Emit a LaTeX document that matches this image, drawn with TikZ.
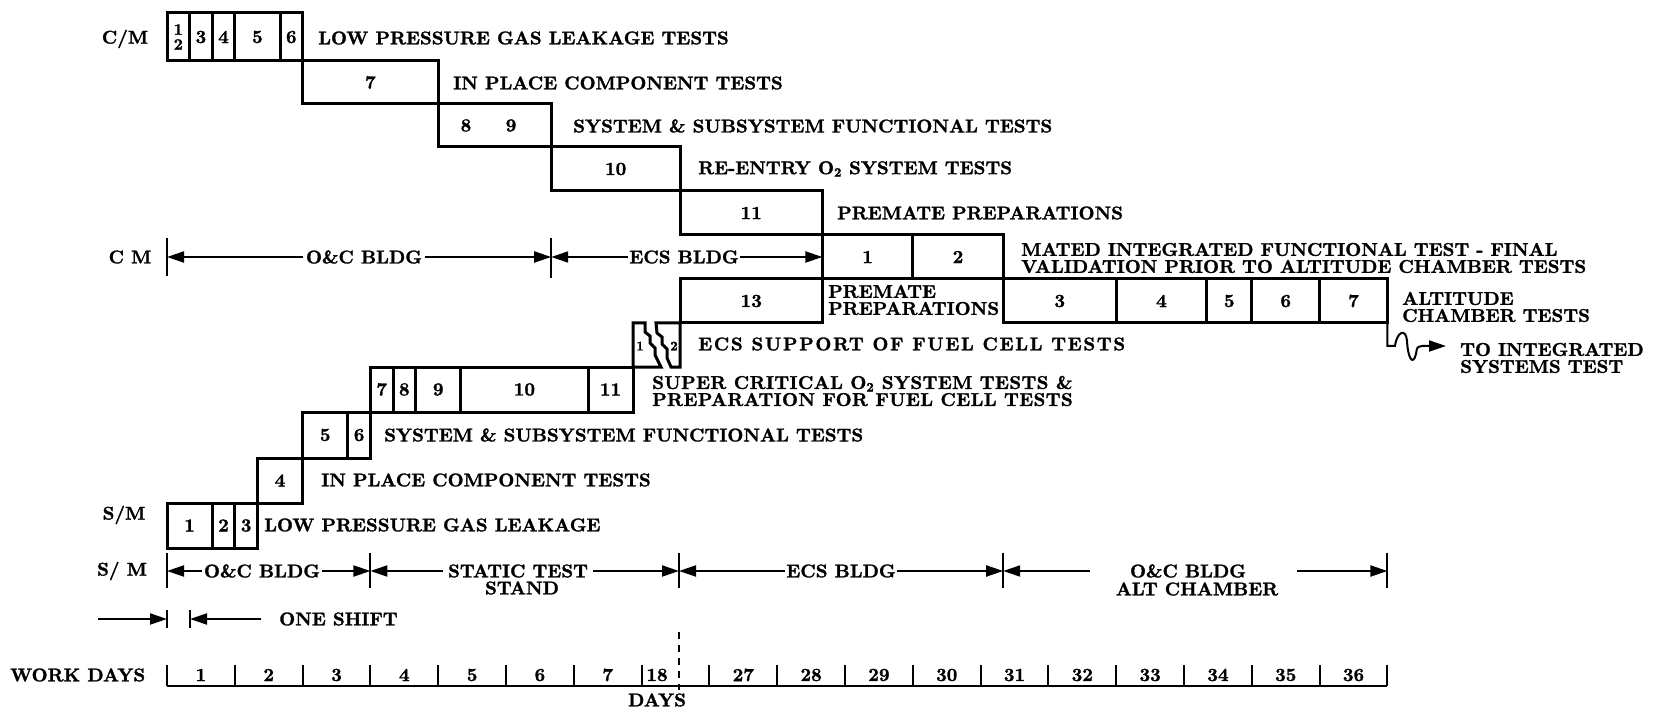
\documentclass[tikz,border=0pt]{standalone}
\usepackage{fontspec}
\usetikzlibrary{arrows.meta}
\newfontfamily\chartfont{lmroman10-bold.otf}[FakeBold=1.5]
\newcommand\gcell[6]{\draw[box] (#1,#3) rectangle (#2,#4); \node[lbl] (#6) at ({(#1+#2)/2},{(#3+#4)/2}) {#5};}
\begin{document}
\begin{tikzpicture}[x=1pt,y=-1pt,
  box/.style={draw, line width=3pt, line join=miter},
  lbl/.style={font=\fontsize{18.5}{17}\chartfont, inner sep=0pt},
  txt/.style={lbl, anchor=west, align=left},
  dim/.style={line width=2pt, -{Triangle[length=17pt,width=11pt]}},
  tk/.style={line width=2pt}]
\useasboundingbox (0,0) rectangle (1667,708);

% ---------- C/M staircase ----------
\draw[box] (167,13) rectangle (189.6,61);
\node[lbl, font=\fontsize{16}{15}\chartfont, align=center] (c12) at (178.3,37) {1\\2};
\gcell{189.6}{212.2}{13}{61}{3}{c3}
\gcell{212.2}{234.8}{13}{61}{4}{c4}
\gcell{234.8}{280}{13}{61}{5}{c5}
\gcell{280}{302.6}{13}{61}{6}{c6}
\gcell{302.6}{438.2}{61}{104}{7}{c7}
\draw[box] (438.2,104) rectangle (551.2,147);
\node[lbl] (c8) at (466,125.5) {8};
\node[lbl] (c9) at (511,125.5) {9};
\gcell{551.2}{680}{147}{191}{10}{c10}
\gcell{680}{822.4}{191}{235}{11}{c11}
\gcell{822.4}{912.8}{235}{279}{1}{m1}
\gcell{912.8}{1003.2}{235}{279}{2}{m2}
\gcell{680}{822.4}{279}{323}{13}{c13}
\gcell{1003.2}{1116.2}{279}{323}{3}{m3}
\gcell{1116.2}{1206.6}{279}{323}{4}{m4}
\gcell{1206.6}{1251.8}{279}{323}{5}{m5}
\gcell{1251.8}{1319.6}{279}{323}{6}{m6}
\gcell{1319.6}{1387.4}{279}{323}{7}{m7}

% ---------- S/M staircase ----------
\gcell{167}{212.2}{503}{548}{1}{s1}
\gcell{212.2}{234.8}{503}{548}{2}{s2}
\gcell{234.8}{257.4}{503}{548}{3}{s3}
\gcell{257.4}{302.6}{458}{503}{4}{s4}
\gcell{302.6}{347.8}{412}{458}{5}{s5}
\gcell{347.8}{370.4}{412}{458}{6}{s6}
\gcell{370.4}{393}{367}{412}{7}{s7}
\gcell{393}{415.6}{367}{412}{8}{s8}
\gcell{415.6}{460.8}{367}{412}{9}{s9}
\gcell{460.8}{588}{367}{412}{10}{s10}
\gcell{588}{633}{367}{412}{11}{s11}
% fuel cell break pieces
\draw[box] (633,323) -- (645,323) -- (645,332) -- (650,336) -- (650,343) -- (655,348) -- (655,355) -- (661,367) -- (633,367) -- cycle;
\draw[box] (656,323) -- (680,323) -- (680,367) -- (671,367) -- (667,358) -- (667,349) -- (662,344) -- (662,337) -- (657,333) -- cycle;
\node[lbl, font=\fontsize{13}{13}\chartfont] (f1) at (640,346) {1};
\node[lbl, font=\fontsize{13}{13}\chartfont] (f2) at (674,346) {2};

% ---------- left labels ----------
\node[lbl] (lcm) at (125,39) {C/M};
\node[lbl] (lcm2) at (130,257) {C M};
\node[lbl] (lsm) at (124,515) {S/M};
\node[lbl] (lsm2) at (122,571) {S/ M};

% ---------- task texts ----------
\node[txt] (t1) at (318,38) {LOW PRESSURE GAS LEAKAGE TESTS};
\node[txt] (t2) at (453,83) {IN PLACE COMPONENT TESTS};
\node[txt] (t3) at (573,126) {SYSTEM \& SUBSYSTEM FUNCTIONAL TESTS};
\node[txt] (t4) at (698,169) {RE-ENTRY O\textsubscript{2} SYSTEM TESTS};
\node[txt] (t5) at (837,213) {PREMATE PREPARATIONS};
\node[txt] (t6) at (1021,258) {MATED INTEGRATED FUNCTIONAL TEST - FINAL\\VALIDATION PRIOR TO ALTITUDE CHAMBER TESTS};
\node[txt] (t7) at (828,300) {PREMATE\\PREPARATIONS};
\node[txt] (t8) at (1402,307) {ALTITUDE\\CHAMBER TESTS};
\node[txt] (t9) at (1460,358) {TO INTEGRATED\\SYSTEMS TEST};
\node[txt] (t10) at (698,344) {\addfontfeatures{LetterSpace=9}ECS SUPPORT OF FUEL CELL TESTS};
\node[txt] (t11) at (652,391) {\addfontfeatures{LetterSpace=2}SUPER CRITICAL O\textsubscript{2} SYSTEM TESTS \&\\\addfontfeatures{LetterSpace=2}PREPARATION FOR FUEL CELL TESTS};
\node[txt] (t12) at (384,435) {SYSTEM \& SUBSYSTEM FUNCTIONAL TESTS};
\node[txt] (t13) at (321,480) {IN PLACE COMPONENT TESTS};
\node[txt] (t14) at (264,525) {LOW PRESSURE GAS LEAKAGE};

% ---------- wavy exit arrow ----------
\coordinate (wvs) at (1387.4,323);
\coordinate (wve) at (1446,346);
\draw[tk, -{Triangle[length=17pt,width=11pt]}] (wvs) -- (1387.4,346) -- (1395,346)
  .. controls (1397,331) and (1406,328) .. (1407,341)
  .. controls (1408,359) and (1413,366) .. (1416,354)
  .. controls (1417,347) .. (1422,346) -- (wve);

% ---------- C M location row ----------
\coordinate (cmL) at (167,257);
\coordinate (cmM) at (551.2,257);
\coordinate (cmR) at (822.4,257);
\draw[tk] (167,238) -- (167,276);
\draw[tk] (551.2,238) -- (551.2,278);
\node[lbl, inner sep=3pt] (cmoc) at (364,257) {O\&C BLDG};
\node[lbl, inner sep=1pt] (cmecs) at (684,257) {ECS BLDG};
\draw[dim] (cmoc.west) -- (cmL);
\draw[dim] (cmoc.east) -- (cmM);
\draw[dim] (cmecs.west) -- (cmM);
\draw[dim] (cmecs.east) -- (cmR);

% ---------- S/M location row ----------
\foreach \xx in {167,370.4,679,1003.2,1387.4}
  \draw[tk] (\xx,553) -- (\xx,588);
\coordinate (sA) at (167,571);
\coordinate (sB) at (370.4,571);
\coordinate (sC) at (679,571);
\coordinate (sD) at (1003.2,571);
\coordinate (sE) at (1387.4,571);
\node[lbl, inner sep=2pt] (soc) at (262,571) {O\&C BLDG};
\node[lbl, inner sep=5pt] (sst) at (518,571) {STATIC TEST};
\node[lbl] (sst2) at (522,588) {STAND};
\node[lbl, inner sep=1pt] (secs) at (841,571) {ECS BLDG};
\node[lbl] (salt) at (1188,571) {O\&C BLDG};
\node[lbl] (salt2) at (1197,589) {ALT CHAMBER};
\coordinate (saltL) at (1090,571);
\coordinate (saltR) at (1297,571);
\draw[dim] (soc.west) -- (sA);
\draw[dim] (soc.east) -- (sB);
\draw[dim] (sst.west) -- (sB);
\draw[dim] (sst.east) -- (sC);
\draw[dim] (secs.west) -- (sC);
\draw[dim] (secs.east) -- (sD);
\draw[dim] (saltL) -- (sD);
\draw[dim] (saltR) -- (sE);

% ---------- one shift ----------
\coordinate (osA) at (98,619);
\coordinate (osT1) at (167,619);
\coordinate (osT2) at (190,619);
\draw[tk] (167,610) -- (167,628);
\draw[tk] (190,610) -- (190,628);
\node[txt] (oneshift) at (279,619) {ONE SHIFT};
\coordinate (osB) at (261,619);
\draw[dim] (osA) -- (osT1);
\draw[dim] (osB) -- (osT2);

% ---------- work days axis ----------
\node[txt] (wdl) at (10,675) {WORK DAYS};
\draw[tk] (167,686) -- (1387.4,686);
\foreach \k in {0,...,18}
  \draw[tk] ({167+\k*67.8},665) -- ({167+\k*67.8},686);
\foreach \k/\t in {0/1,1/2,2/3,3/4,4/5,5/6,6/7,8/27,9/28,10/29,11/30,12/31,13/32,14/33,15/34,16/35,17/36}
  \node[lbl] (wd\t) at ({167+(\k+0.5)*67.8},675) {\t};
\node[lbl] (wd18) at (657,675) {18};
\draw[tk, dash pattern=on 7pt off 6pt] (679,632) -- (679,690);
\node[lbl] (days) at (657,700) {DAYS};
\end{tikzpicture}
\end{document}
